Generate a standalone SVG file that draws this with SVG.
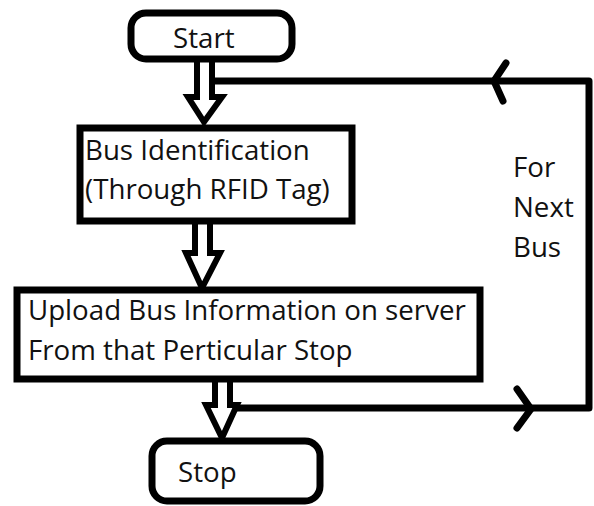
<svg xmlns="http://www.w3.org/2000/svg" width="594" height="506" viewBox="0 0 594 506">
<style>
.box{fill:#fff;stroke:#000;stroke-width:7}
.ln{fill:none;stroke:#000;stroke-width:7;stroke-linejoin:round;stroke-linecap:round}
.arr{fill:#fff;stroke:#000;stroke-width:6;stroke-linejoin:miter}
text{font-family:"Open Sans","Noto Sans",sans-serif;font-size:27.7px;fill:#111}
</style>
<rect width="594" height="506" fill="#fff"/>
<g id="connectors">
<path class="ln" d="M215 81 H589 V408 H235"/>
<path class="ln" d="M506 63 L494 81 L503 101"/>
<path class="ln" d="M517 389 L531 409 L517 428"/>
<path class="arr" d="M197 60 V97 H188 L204 122 L222 97 H212 V60"/>
<path class="arr" d="M195 222 V253 H186 L202 288 L220 253 H210 V222"/>
<path class="arr" d="M215 382 V405 H206 L222 438 L237 405 H230 V382"/>
</g>
<g id="start">
<rect class="box" x="131" y="13" width="161" height="46" rx="15"/>
<text x="173" y="48">Start</text>
</g>
<g id="bus-identification">
<rect class="box" x="80" y="128" width="272" height="93"/>
<text x="85" y="160">Bus Identification</text>
<text x="85" y="199">(Through RFID Tag)</text>
</g>
<g id="upload">
<rect class="box" x="17" y="290" width="463" height="89"/>
<text x="28" y="320">Upload Bus Information on server</text>
<text x="28" y="360">From that Perticular Stop</text>
</g>
<g id="stop">
<rect class="box" x="152" y="441" width="168" height="60" rx="15"/>
<text x="178" y="482">Stop</text>
</g>
<g id="label">
<text x="513" y="177">For</text>
<text x="513" y="217">Next</text>
<text x="513" y="257">Bus</text>
</g>
</svg>
